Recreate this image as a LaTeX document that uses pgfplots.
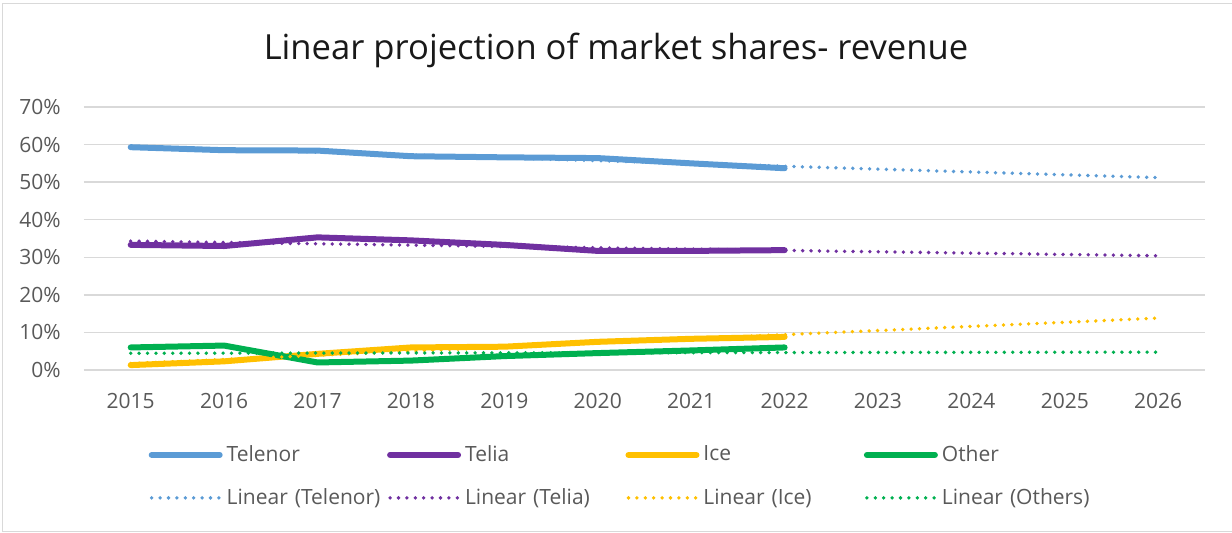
\documentclass[border=0pt]{standalone}
\usepackage{fontspec}
\setmainfont{Open Sans}
\usepackage{pgfplots}
\pgfplotsset{compat=1.18}

\definecolor{telenor}{HTML}{5B9BD5}
\definecolor{telia}{HTML}{7030A0}
\definecolor{ice}{HTML}{FFC000}
\definecolor{other}{HTML}{00B050}
\definecolor{gridgray}{HTML}{D9D9D9}
\definecolor{labelgray}{HTML}{595959}

\begin{document}
\begin{tikzpicture}[x=1pt,y=1pt]
  % 1px of the reference = 0.5pt here
  \useasboundingbox (0,0) rectangle (616,266.5);
  \draw[gridgray, line width=0.8pt] (616,0.8) -- (1.3,0.8) -- (1.3,264.8) -- (616,264.8);
  \node[anchor=base, font=\fontsize{17.3}{20}\selectfont, text=black!90] at (308,236.5)
    {Linear projection of market shares- revenue};

  \begin{axis}[
    at={(42pt,81.5pt)}, anchor=south west,
    scale only axis,
    width=560.5pt, height=131.5pt,
    xmin=2014.5, xmax=2026.5,
    ymin=0, ymax=70,
    xtick={2015,...,2026},
    ytick={0,10,...,70},
    x tick label style={/pgf/number format/set thousands separator={}},
    xticklabel style={anchor=north, inner sep=0pt, yshift=-11.5pt},
    yticklabel={\pgfmathprintnumber{\tick}\%},
    yticklabel style={anchor=east, inner sep=0pt, xshift=-11.5pt},
    /pgf/number format/assume math mode=true,
    tick label style={font=\fontsize{10.5}{12}\selectfont, text=labelgray},
    major tick length=0pt,
    axis line style={draw=none},
    ymajorgrids,
    grid style={gridgray, line width=0.75pt},
    clip=false,
    legend columns=4,
    legend cell align=left,
    legend image code/.code={\draw[#1] (0pt,0pt) -- (34pt,0pt);},
    legend style={draw=none, fill=none,
      at={(0.052,-0.255)}, anchor=north west,
      font=\fontsize{10.5}{12}\selectfont, text=labelgray,
      row sep=8pt,
      /tikz/every even column/.append style={text width=78.2pt}},
    solid/.style={line width=3pt, line cap=round, line join=round},
    trend/.style={line width=1.9pt, line cap=round, dash pattern=on 0pt off 4.2pt},
  ]
    \addplot[solid, telenor] coordinates {
      (2015,59.3) (2016,58.5) (2017,58.4) (2018,56.9) (2019,56.6) (2020,56.4) (2021,55.0) (2022,53.7)};
    \addlegendentry{Telenor}
    \addplot[solid, telia] coordinates {
      (2015,33.3) (2016,33.0) (2017,35.3) (2018,34.5) (2019,33.3) (2020,31.7) (2021,31.7) (2022,31.9)};
    \addlegendentry{Telia}
    \addplot[solid, ice] coordinates {
      (2015,1.3) (2016,2.3) (2017,4.3) (2018,6.0) (2019,6.2) (2020,7.5) (2021,8.3) (2022,8.8)};
    \addlegendentry{Ice}
    \addplot[solid, other] coordinates {
      (2015,6.0) (2016,6.5) (2017,2.0) (2018,2.5) (2019,3.7) (2020,4.5) (2021,5.2) (2022,6.0)};
    \addlegendentry{Other}

    \addplot[trend, telenor] coordinates {(2015,59.5) (2026,51.2)};
    \addlegendentry{Linear (Telenor)}
    \addplot[trend, telia] coordinates {(2015,34.3) (2026,30.4)};
    \addlegendentry{Linear (Telia)}
    \addplot[trend, ice] coordinates {(2015,1.7) (2026,13.8)};
    \addlegendentry{Linear (Ice)}
    \addplot[trend, other] coordinates {(2015,4.45) (2026,4.75)};
    \addlegendentry{Linear (Others)}
  \end{axis}
\end{tikzpicture}
\end{document}
